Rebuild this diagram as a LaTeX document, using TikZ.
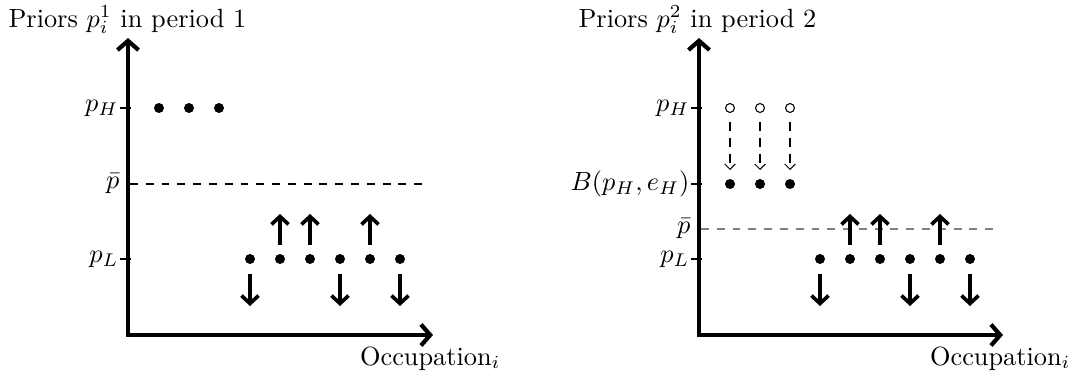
\documentclass[tikz,border=0pt]{standalone}
\usetikzlibrary{arrows.meta}
\begin{document}
\begin{tikzpicture}[x=0.38pt,y=-0.38pt,
  axis/.style={line width=1.6pt,{Straight Barb[length=3.5pt,width=8pt]}-{Straight Barb[length=3.5pt,width=8pt]}},
  tick/.style={line width=1.1pt},
  dot/.style={circle,fill=black,inner sep=0pt,minimum size=3.8pt},
  odot/.style={circle,draw=black,line width=0.4pt,inner sep=0pt,minimum size=3.4pt},
  mv/.style={line width=1.4pt,-{Straight Barb[length=3pt,width=6.5pt]}},
  shiftarr/.style={dash pattern=on 3.6pt off 2.4pt,line width=0.4pt,-{Straight Barb[length=2pt,width=4pt]}},
  lab/.style={anchor=east,inner sep=0.4pt},
  thr/.style={dashed,line width=0.45pt}]
\useasboundingbox (0,0) rectangle (1083,375);

% ---------- left panel ----------
\coordinate (Y1) at (128,38);
\coordinate (O1) at (128,335);
\coordinate (X1) at (433,335);
\draw[axis] (Y1) -- (O1) -- (X1);
\node[anchor=base west,inner sep=0pt] (t1) at (8,27) {Priors $p_i^1$ in period 1};
\node[anchor=base east,inner sep=0pt] (o1) at (501,365) {Occupation$_i$};

\coordinate (pH1a) at (120,108); \coordinate (pH1b) at (131,108);
\draw[tick] (pH1a) -- (pH1b);
\node[lab] (lpH1) at (pH1a) {$p_H$};
\coordinate (pL1a) at (120,259); \coordinate (pL1b) at (131,259);
\draw[tick] (pL1a) -- (pL1b);
\node[lab] (lpL1) at (pL1a) {$p_L$};
\node[lab] (lpb1) at (121,184) {$\bar p$};
\coordinate (pb1a) at (130,184); \coordinate (pb1b) at (425,184);
\draw[thr] (pb1a) -- (pb1b);

\foreach \i/\x in {1/159,2/189,3/219}
  \node[dot] (h1\i) at (\x,108) {};
\foreach \i/\x in {1/250,2/280,3/310,4/340,5/370,6/400}
  \node[dot] (l1\i) at (\x,259) {};
\foreach \i/\x in {2/280,3/310,5/370}{
  \coordinate (u1s\i) at (\x,245); \coordinate (u1e\i) at (\x,214);
  \draw[mv] (u1s\i) -- (u1e\i);}
\foreach \i/\x in {1/250,4/340,6/400}{
  \coordinate (d1s\i) at (\x,274); \coordinate (d1e\i) at (\x,306);
  \draw[mv] (d1s\i) -- (d1e\i);}

% ---------- right panel ----------
\coordinate (Y2) at (699,38);
\coordinate (O2) at (699,335);
\coordinate (X2) at (1003,335);
\draw[axis] (Y2) -- (O2) -- (X2);
\node[anchor=base west,inner sep=0pt] (t2) at (578,27) {Priors $p_i^2$ in period 2};
\node[anchor=base east,inner sep=0pt] (o2) at (1071,365) {Occupation$_i$};

\coordinate (pH2a) at (691,108); \coordinate (pH2b) at (702,108);
\draw[tick] (pH2a) -- (pH2b);
\node[lab] (lpH2) at (pH2a) {$p_H$};
\coordinate (B2a) at (691,184); \coordinate (B2b) at (702,184);
\draw[tick] (B2a) -- (B2b);
\node[lab] (lB2) at (B2a) {$B(p_H,e_H)$};
\coordinate (pL2a) at (691,259); \coordinate (pL2b) at (702,259);
\draw[tick] (pL2a) -- (pL2b);
\node[lab] (lpL2) at (pL2a) {$p_L$};
\node[lab] (lpb2) at (692,229) {$\bar p$};
\coordinate (pb2a) at (701,229); \coordinate (pb2b) at (996,229);
\draw[thr,gray,line width=0.6pt] (pb2a) -- (pb2b);

\foreach \i/\x in {1/730,2/760,3/790}{
  \node[odot] (oh2\i) at (\x,108) {};
  \node[dot] (h2\i) at (\x,184) {};
  \coordinate (s2s\i) at (\x,122);
  \coordinate (s2e\i) at (\x,170);
  \draw[shiftarr] (s2s\i) -- (s2e\i);}
\foreach \i/\x in {1/820,2/850,3/880,4/910,5/940,6/970}
  \node[dot] (l2\i) at (\x,259) {};
\foreach \i/\x in {2/850,3/880,5/940}{
  \coordinate (u2s\i) at (\x,245); \coordinate (u2e\i) at (\x,214);
  \draw[mv] (u2s\i) -- (u2e\i);}
\foreach \i/\x in {1/820,4/910,6/970}{
  \coordinate (d2s\i) at (\x,274); \coordinate (d2e\i) at (\x,306);
  \draw[mv] (d2s\i) -- (d2e\i);}
\end{tikzpicture}
\end{document}
